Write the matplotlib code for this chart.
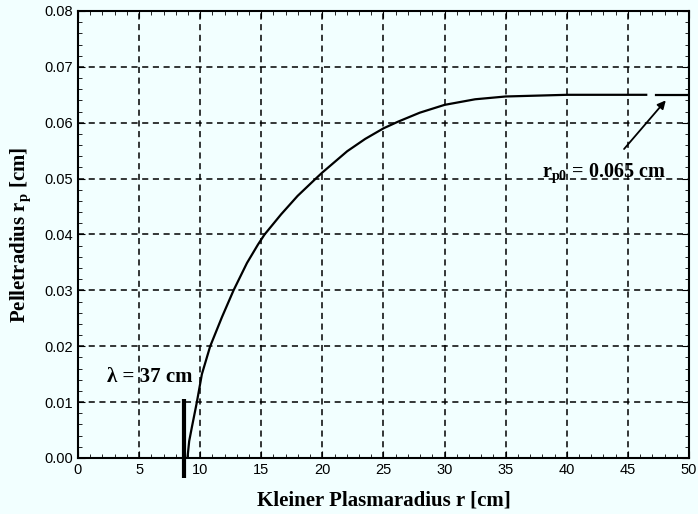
import matplotlib
matplotlib.use("Agg")
import matplotlib.pyplot as plt
from matplotlib.ticker import MultipleLocator

# Values
radius = [8.96, 9.1, 9.32, 9.73, 10.14, 10.82, 11.78, 12.73, 13.83, 14.73,
          15.27, 16.62, 17.97, 19.46, 20.0, 22.03, 23.5, 25.0, 26.2, 27.97,
          30.0, 32.5, 35.0, 40.0, 46.5]
pelletRadius = [0.0, 0.003, 0.0055, 0.010, 0.015, 0.020, 0.0252, 0.030,
                0.0349, 0.0382, 0.040, 0.0436, 0.0469, 0.050, 0.0511, 0.0549,
                0.0571, 0.059, 0.0602, 0.0618, 0.0632, 0.0642, 0.0647, 0.065,
                0.065]
tailRadius = [47.3, 50.0]
tailPellet = [0.065, 0.065]
lambdaMark = 8.66
rp0 = 0.065

plt.rcParams["mathtext.fontset"] = "custom"
plt.rcParams["mathtext.rm"] = "Liberation Serif:bold"
plt.rcParams["mathtext.it"] = "Liberation Serif:bold"
plt.rcParams["mathtext.bf"] = "Liberation Serif:bold"

serif = ["Liberation Serif", "DejaVu Serif"]
sans = ["Liberation Sans", "DejaVu Sans"]
bg = "#f2ffff"

fig = plt.figure(figsize=(6.98, 5.14), dpi=100, facecolor=bg)
ax = fig.add_axes([0.1117, 0.109, 0.8754, 0.8696], facecolor=bg)

ax.plot(radius, pelletRadius, color="black", lw=1.6)
ax.plot(tailRadius, tailPellet, color="black", lw=1.6)

# thick marker at the penetration depth
ax.plot([lambdaMark, lambdaMark], [-0.0036, 0.0106], color="black", lw=3,
        clip_on=False, solid_capstyle="butt", zorder=5)
ax.text(5.9, 0.0145, "λ = 37 cm", family=serif, fontweight="bold",
        fontsize=15, ha="center", va="center")

ax.annotate(r"$\mathrm{r_{p0}}$ = 0.065 cm", xy=(48.1, 0.0640),
            xytext=(43.0, 0.051), ha="center", va="center",
            family=serif, fontweight="bold", fontsize=14.5,
            arrowprops=dict(arrowstyle="-|>", color="black", lw=1.3,
                            shrinkA=9, shrinkB=0, mutation_scale=12))

ax.set_xlim(0, 50)
ax.set_ylim(0, 0.08)
ax.xaxis.set_major_locator(MultipleLocator(5))
ax.xaxis.set_minor_locator(MultipleLocator(1))
ax.yaxis.set_major_locator(MultipleLocator(0.01))
ax.yaxis.set_minor_locator(MultipleLocator(0.002))
ax.yaxis.set_major_formatter(plt.FuncFormatter(lambda v, p: "%.2f" % v))

ax.tick_params(which="both", direction="in", top=True, right=True,
               labelsize=10.5)
ax.tick_params(which="major", length=5)
ax.tick_params(which="minor", length=3)
for lbl in ax.get_xticklabels() + ax.get_yticklabels():
    lbl.set_family(sans)

ax.grid(True, which="major", color="black", linestyle=(0, (4, 3)), lw=1.1)
for side in ax.spines:
    ax.spines[side].set_linewidth(1.5)

ax.set_xlabel("Kleiner Plasmaradius r [cm]", family=serif, fontweight="bold",
              fontsize=15, labelpad=10)
ax.set_ylabel(r"Pelletradius r$_\mathrm{p}$ [cm]", family=serif,
              fontweight="bold", fontsize=15, labelpad=8)

fig.savefig("out.png", dpi=100, facecolor=bg)
